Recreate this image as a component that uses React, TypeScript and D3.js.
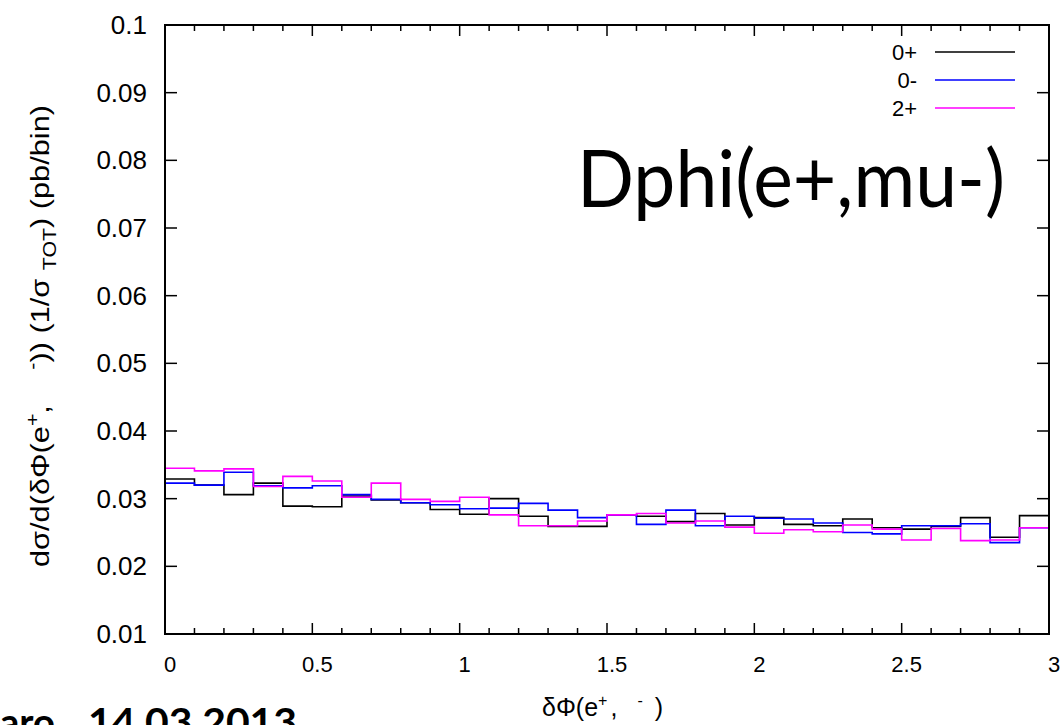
import React, { useEffect, useRef } from "react";
import * as d3 from "d3";

// bin lower edges: 0, 0.1, ... 2.9 (width 0.1)
const binEdges = [
  0, 0.1, 0.2, 0.3, 0.4, 0.5, 0.6, 0.7, 0.8, 0.9, 1.0, 1.1, 1.2, 1.3, 1.4, 1.5,
  1.6, 1.7, 1.8, 1.9, 2.0, 2.1, 2.2, 2.3, 2.4, 2.5, 2.6, 2.7, 2.8, 2.9,
];
const binWidth = 0.1;

const series0plus = [
  0.0329, 0.032, 0.0306, 0.0323, 0.0289, 0.0288, 0.0304, 0.0298, 0.0294, 0.0284,
  0.0277, 0.03, 0.0274, 0.0259, 0.0259, 0.0276, 0.0274, 0.0266, 0.0278, 0.0261,
  0.0272, 0.0262, 0.026, 0.027, 0.0257, 0.0255, 0.0259, 0.0272, 0.0243, 0.0275,
];
const series0minus = [
  0.0323, 0.032, 0.0339, 0.0319, 0.0316, 0.0319, 0.0306, 0.0299, 0.0294, 0.0291,
  0.0285, 0.0286, 0.0293, 0.0283, 0.0272, 0.0276, 0.0262, 0.0283, 0.026, 0.0274,
  0.0271, 0.027, 0.0264, 0.025, 0.0248, 0.026, 0.026, 0.0263, 0.0235, 0.0257,
];
const series2plus = [
  0.0345, 0.0341, 0.0344, 0.0318, 0.0333, 0.0326, 0.0302, 0.0323, 0.0299, 0.0296,
  0.0302, 0.0276, 0.026, 0.026, 0.0267, 0.0276, 0.0278, 0.0264, 0.0267, 0.0258,
  0.0249, 0.0254, 0.0251, 0.0261, 0.0255, 0.0239, 0.0256, 0.0238, 0.0239, 0.0257,
];

const seriesNames = ["0+", "0-", "2+"];
const seriesColors = ["#000000", "#0000ff", "#ff00ff"];
const allSeries = [series0plus, series0minus, series2plus];

const xTickLabels = ["0", "0.5", "1", "1.5", "2", "2.5", "3"];
const yTickLabels = ["0.01", "0.02", "0.03", "0.04", "0.05", "0.06", "0.07", "0.08", "0.09", "0.1"];

const W = 1061,
  H = 725;
const left = 165,
  right = 1049,
  top = 25,
  bottom = 634;

const drawChart = (svgRef) => {
  const svg = d3.select(svgRef.current);
  svg.selectAll("*").remove();

  const x = d3.scaleLinear().domain([0, 3]).range([left, right]);
  const y = d3.scaleLinear().domain([0.01, 0.1]).range([bottom, top]);

  const sans = "'Liberation Sans', Arial, sans-serif";

  // histograms
  const line = d3
    .line()
    .x((d) => x(d[0]))
    .y((d) => y(d[1]))
    .curve(d3.curveStepAfter);

  allSeries.forEach((vals, k) => {
    const pts = binEdges.map((e, i) => [e, vals[i]]);
    pts.push([binEdges[binEdges.length - 1] + binWidth, vals[vals.length - 1]]);
    svg
      .append("path")
      .attr("d", line(pts))
      .attr("fill", "none")
      .attr("stroke", seriesColors[k])
      .attr("stroke-width", 1.6);
  });

  // frame
  svg
    .append("rect")
    .attr("x", left)
    .attr("y", top)
    .attr("width", right - left)
    .attr("height", bottom - top)
    .attr("fill", "none")
    .attr("stroke", "#000")
    .attr("stroke-width", 2);

  // x ticks (major + minor, bottom and top, inward)
  const xMinor = d3.range(0, 31).map((i) => i / 10);
  xMinor.forEach((v, i) => {
    const len = i % 5 === 0 ? 11 : 6;
    svg
      .append("line")
      .attr("x1", x(v))
      .attr("x2", x(v))
      .attr("y1", bottom)
      .attr("y2", bottom - len)
      .attr("stroke", "#000")
      .attr("stroke-width", 1.5);
    svg
      .append("line")
      .attr("x1", x(v))
      .attr("x2", x(v))
      .attr("y1", top)
      .attr("y2", top + len)
      .attr("stroke", "#000")
      .attr("stroke-width", 1.5);
  });

  xTickLabels.forEach((t) => {
    svg
      .append("text")
      .attr("x", x(+t) + 5)
      .attr("y", bottom + 38)
      .attr("text-anchor", "middle")
      .attr("font-family", sans)
      .attr("font-size", 22)
      .text(t);
  });

  // y ticks
  yTickLabels.forEach((t) => {
    const yy = y(+t);
    svg
      .append("line")
      .attr("x1", left)
      .attr("x2", left + 12)
      .attr("y1", yy)
      .attr("y2", yy)
      .attr("stroke", "#000")
      .attr("stroke-width", 1.5);
    svg
      .append("line")
      .attr("x1", right)
      .attr("x2", right - 12)
      .attr("y1", yy)
      .attr("y2", yy)
      .attr("stroke", "#000")
      .attr("stroke-width", 1.5);
    svg
      .append("text")
      .attr("x", 147)
      .attr("y", yy + 9)
      .attr("text-anchor", "end")
      .attr("font-family", sans)
      .attr("font-size", 26)
      .text(t);
  });

  // legend
  seriesNames.forEach((n, k) => {
    const yy = 52 + k * 28;
    svg
      .append("text")
      .attr("x", 917)
      .attr("y", yy + 8)
      .attr("text-anchor", "end")
      .attr("font-family", sans)
      .attr("font-size", 22)
      .text(n);
    svg
      .append("line")
      .attr("x1", 935)
      .attr("x2", 1015)
      .attr("y1", yy)
      .attr("y2", yy)
      .attr("stroke", seriesColors[k])
      .attr("stroke-width", 1.6);
  });

  // big title inside plot
  svg
    .append("text")
    .attr("x", 577)
    .attr("y", 207)
    .attr("font-family", "Lato, 'Open Sans', sans-serif")
    .attr("font-size", 79)
    .attr("textLength", 428)
    .attr("lengthAdjust", "spacingAndGlyphs")
    .text("Dphi(e+,mu-)");

  // y axis label
  const yl = svg
    .append("text")
    .attr("transform", "translate(49,336) rotate(-90)")
    .attr("text-anchor", "middle")
    .attr("font-family", sans)
    .attr("font-size", 26)
    .attr("textLength", 462)
    .attr("lengthAdjust", "spacingAndGlyphs");
  yl.append("tspan").text("dσ/d(δΦ(e");
  yl.append("tspan").attr("dy", -10).attr("font-size", 18).text("+");
  yl.append("tspan").attr("dy", 10).text(",");
  yl.append("tspan").attr("dx", 30).attr("dy", -10).attr("font-size", 18).text("-");
  yl.append("tspan").attr("dy", 10).text(")) (1/σ ");
  yl.append("tspan").attr("dy", 7).attr("font-size", 18).text("TOT");
  yl.append("tspan").attr("dy", -7).text(") (pb/bin)");

  // x axis label
  const xl = svg
    .append("text")
    .attr("x", 542)
    .attr("y", 716)
    .attr("font-family", sans)
    .attr("font-size", 25);
  xl.append("tspan").text("δΦ(e");
  xl.append("tspan").attr("dy", -10).attr("font-size", 16).text("+");
  xl.append("tspan").attr("dy", 10).attr("dx", 3).text(",");
  xl.append("tspan").attr("dx", 20).attr("dy", -10).attr("font-size", 16).text("-");
  xl.append("tspan").attr("dx", 12).attr("dy", 10).text(")");

  // slide footer text (cut off by page edge, as on the slide)
  svg
    .append("text")
    .attr("x", 0)
    .attr("y", 736)
    .attr("font-family", "Lato, 'Open Sans', sans-serif")
    .attr("font-weight", "bold")
    .attr("font-size", 38)
    .attr("textLength", 55)
    .attr("lengthAdjust", "spacingAndGlyphs")
    .text("aro");
  svg
    .append("text")
    .attr("x", 88)
    .attr("y", 736)
    .attr("font-family", "Lato, 'Open Sans', sans-serif")
    .attr("font-weight", "bold")
    .attr("font-size", 38)
    .attr("textLength", 209)
    .attr("lengthAdjust", "spacingAndGlyphs")
    .text("14.03.2013");
};

const App = () => {
  const svg = useRef(null);

  useEffect(() => {
    drawChart(svg);
  }, []);

  return (
    <svg
      ref={svg}
      width={W}
      height={H}
      style={{ position: "fixed", left: 0, top: 0, background: "#fff" }}
    />
  );
};

export default App;
